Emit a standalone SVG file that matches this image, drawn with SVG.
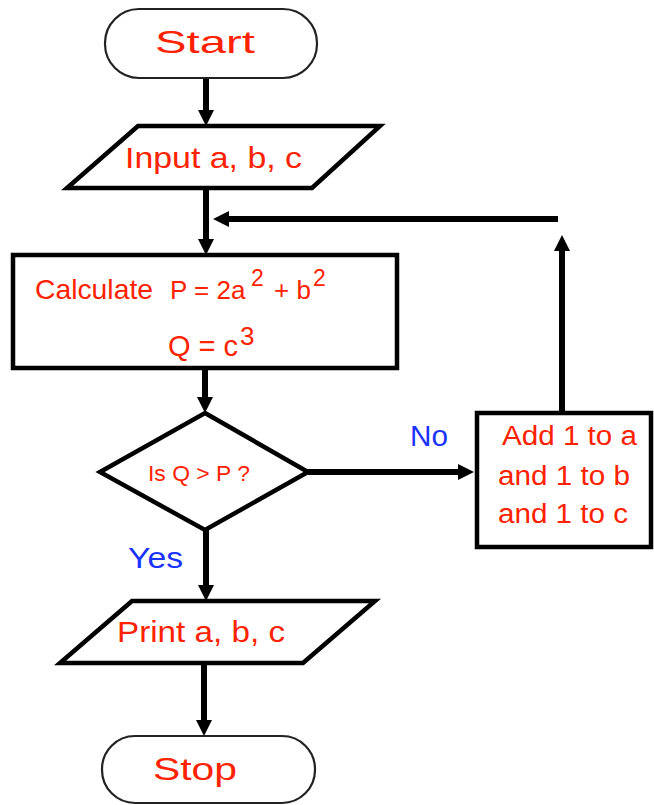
<svg xmlns="http://www.w3.org/2000/svg" width="654" height="805" viewBox="0 0 654 805">
<style>
.term{fill:#fff;stroke:#222;stroke-width:2.2}
.shape{fill:#fff;stroke:#000;stroke-width:4.5;stroke-linejoin:miter}
.conn{stroke:#000;stroke-width:6;fill:none;marker-end:url(#ah)}
.t{font-family:"Liberation Sans",Arial,sans-serif;fill:#ff2200}
.lbl{font-family:"Liberation Sans",Arial,sans-serif;fill:#1a33ff}
</style>
<defs>
<marker id="ah" markerUnits="userSpaceOnUse" viewBox="0 0 16 16" refX="5" refY="8" markerWidth="16" markerHeight="16" orient="auto">
<path d="M0,0 L16,8 L0,16 Z" fill="#000"/>
</marker>
</defs>
<rect width="654" height="805" fill="#fff"/>
<g id="connectors">
<line class="conn" x1="206" y1="78" x2="206" y2="115"/>
<line class="conn" x1="206" y1="188" x2="206" y2="244"/>
<line class="conn" x1="205" y1="368" x2="205" y2="402"/>
<line class="conn" x1="308" y1="472" x2="463" y2="472"/>
<line class="conn" x1="562" y1="413" x2="562" y2="246"/>
<line class="conn" x1="558" y1="219" x2="224" y2="219"/>
<line class="conn" x1="206" y1="530" x2="206" y2="590"/>
<line class="conn" x1="204" y1="663" x2="204" y2="725"/>
<text class="lbl" x="410" y="446" font-size="29" textLength="38" lengthAdjust="spacingAndGlyphs">No</text>
<text class="lbl" x="128" y="568" font-size="29" textLength="55" lengthAdjust="spacingAndGlyphs">Yes</text>
</g>
<g id="start">
<rect class="term" x="105" y="9" width="212" height="69" rx="34"/>
<text class="t" x="155" y="53" font-size="32" textLength="100" lengthAdjust="spacingAndGlyphs">Start</text>
</g>
<g id="input">
<polygon class="shape" points="138,126 380,126 312,188 67,188"/>
<text class="t" x="125" y="168" font-size="29" textLength="177" lengthAdjust="spacingAndGlyphs">Input a, b, c</text>
</g>
<g id="calculate">
<rect class="shape" x="13" y="255" width="384" height="113"/>
<text class="t" x="35" y="299" font-size="28" textLength="118" lengthAdjust="spacingAndGlyphs">Calculate</text>
<text class="t" x="170" y="299" font-size="26">P = 2a</text>
<text class="t" x="251" y="286" font-size="23">2</text>
<text class="t" x="274" y="299" font-size="26">+ b</text>
<text class="t" x="313" y="286" font-size="23">2</text>
<text class="t" x="168" y="356" font-size="29">Q = c</text>
<text class="t" x="240" y="345" font-size="26">3</text>
</g>
<g id="decision">
<polygon class="shape" points="205,413 308,472 205,530 100,472"/>
<text class="t" x="148" y="481" font-size="22" textLength="102" lengthAdjust="spacingAndGlyphs">Is Q &gt; P ?</text>
</g>
<g id="add">
<rect class="shape" x="477" y="413" width="174" height="134"/>
<text class="t" font-size="27"><tspan x="502" y="445" textLength="135" lengthAdjust="spacingAndGlyphs">Add 1 to a</tspan><tspan x="498" y="485" textLength="132" lengthAdjust="spacingAndGlyphs">and 1 to b</tspan><tspan x="498" y="523" textLength="130" lengthAdjust="spacingAndGlyphs">and 1 to c</tspan></text>
</g>
<g id="print">
<polygon class="shape" points="132,601 375,601 303,663 60,663"/>
<text class="t" x="117" y="642" font-size="29" textLength="168" lengthAdjust="spacingAndGlyphs">Print a, b, c</text>
</g>
<g id="stop">
<rect class="term" x="102" y="736" width="213" height="67" rx="33"/>
<text class="t" x="153" y="780" font-size="32" textLength="84" lengthAdjust="spacingAndGlyphs">Stop</text>
</g>
</svg>
